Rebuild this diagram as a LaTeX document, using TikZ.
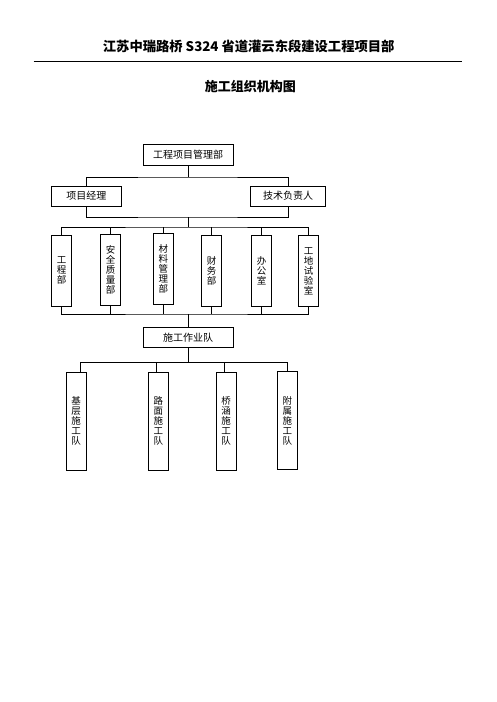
\documentclass[tikz,border=0pt]{standalone}
\usepackage{fontspec}
\setmainfont{Noto Sans CJK SC}
\usepackage{tikz}
\usetikzlibrary{positioning}
\tikzset{>=stealth}
\newcommand\tightlines{\lineskiplimit=-20pt\relax\lineskip=0pt\relax}

\begin{document}
\begin{tikzpicture}[x=1pt, y=-1pt, line width=0.8pt,
    box/.style={draw, line width=0.9pt, inner sep=1pt, minimum height=20, font=\fontsize{10}{12}\selectfont},
    vbox/.style={draw, line width=0.9pt, inner sep=1pt, minimum width=20, align=center,
        font=\fontsize{9.5}{10}\selectfont\tightlines}]
    \useasboundingbox (0,0) rectangle (496,702);
    % header
    \node (head) at (248.7,46.7){\fontsize{13.3}{15}\selectfont\bfseries 江苏中瑞路桥 S324 省道灌云东段建设工程项目部};
    \draw [line width=0.9pt](33.7,61.7)--(461.7,61.7);
    \node (title) at (250.3,86.7){\fontsize{13}{15}\selectfont\bfseries 施工组织机构图};
    % upper levels
    \node [box, minimum width=90, minimum height=21] (top) at (188,154.6){工程项目管理部};
    \node [box, minimum width=70.7] (mgr) at (86.3,196){项目经理};
    \node [box, minimum width=75] (tech) at (288.2,196){技术负责人};
    % departments
    \node [vbox, minimum height=71] (d1) at (61.7,270.5){工\\程\\部};
    \node [vbox, minimum height=71] (d2) at (110.7,270.2){安\\全\\质\\量\\部};
    \node [vbox, minimum height=71] (d3) at (163.3,269.2){材\\料\\管\\理\\部};
    \node [vbox, minimum height=71] (d4) at (211.7,271.3){财\\务\\部};
    \node [vbox, minimum height=71] (d5) at (261.7,270.5){办\\公\\室};
    \node [vbox, minimum height=71] (d6) at (308.7,271.3){工\\地\\试\\验\\室};
    % teams
    \node [box, minimum width=90] (team) at (188,337.3){施工作业队};
    \node [vbox, minimum height=98] (t1) at (76,421.2){基\\层\\施\\工\\队};
    \node [vbox, minimum height=98] (t2) at (158.3,421.2){路\\面\\施\\工\\队};
    \node [vbox, minimum height=98] (t3) at (226,421.2){桥\\涵\\施\\工\\队};
    \node [vbox, minimum height=98] (t4) at (287.3,420.4){附\\属\\施\\工\\队};
    % connectors
    \coordinate (j1) at (188,177);
    \coordinate (j2) at (188,217);
    \coordinate (j3) at (188,227);
    \coordinate (j4) at (188,314);
    \coordinate (j5) at (188,362);
    \draw (top)--(j1);
    \draw (mgr.north)|-(j1)-|(tech.north);
    \draw (mgr.south)|-(j2)-|(tech.south);
    \draw (j2)--(j3);
    \draw (d1.north)|-(j3)-|(d6.north);
    \draw (d1.south)|-(j4)-|(d6.south);
    \foreach \d in {d2,d3,d4,d5}{
        \draw (\d.north)--(\d.north |- j3);
        \draw (\d.south)--(\d.south |- j4);
    }
    \draw (j4)--(team);
    \draw (team)--(j5);
    \coordinate (b1) at (80.7,362);
    \coordinate (b2) at (156.7,362);
    \coordinate (b3) at (224.3,362);
    \coordinate (b4) at (287.7,362);
    \draw (b1)--(b4);
    \draw (b1)--(b1 |- t1.north);
    \draw (b2)--(b2 |- t2.north);
    \draw (b3)--(b3 |- t3.north);
    \draw (b4)--(b4 |- t4.north);
\end{tikzpicture}
\end{document}
